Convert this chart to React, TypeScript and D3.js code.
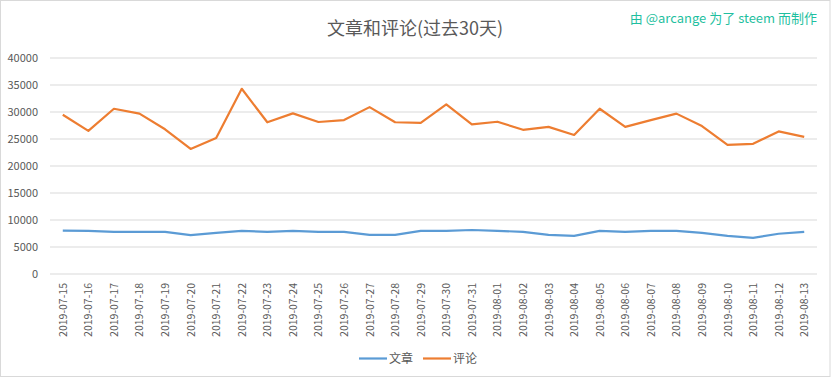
import React from "react";
import * as d3 from "d3";

const dates = [
  "2019-07-15","2019-07-16","2019-07-17","2019-07-18","2019-07-19","2019-07-20","2019-07-21","2019-07-22","2019-07-23","2019-07-24",
  "2019-07-25","2019-07-26","2019-07-27","2019-07-28","2019-07-29","2019-07-30","2019-07-31","2019-08-01","2019-08-02","2019-08-03",
  "2019-08-04","2019-08-05","2019-08-06","2019-08-07","2019-08-08","2019-08-09","2019-08-10","2019-08-11","2019-08-12","2019-08-13",
];
const posts = [
  8050, 8000, 7800, 7800, 7800, 7200, 7600, 8000, 7800, 8000,
  7800, 7800, 7250, 7250, 8000, 8000, 8150, 8000, 7800, 7250,
  7050, 8000, 7800, 8000, 8000, 7600, 7050, 6700, 7450, 7800,
];
const comments = [
  29500, 26500, 30600, 29700, 26800, 23150, 25200, 34300, 28100, 29750,
  28150, 28500, 30900, 28100, 28000, 31400, 27700, 28200, 26700, 27250,
  25750, 30600, 27250, 28500, 29700, 27400, 23900, 24100, 26400, 25400,
];
const yTicks = [0, 5000, 10000, 15000, 20000, 25000, 30000, 35000, 40000];
const seriesNames = ["文章", "评论"];
const colors = ["#5B9BD5", "#ED7D31"];

const W = 832, H = 378;
const left = 50, right = 817, top = 58, bottom = 274;
const font = "'Noto Sans CJK SC', 'Noto Sans', sans-serif";

export default function App() {
  const x = d3.scaleBand<string>().domain(dates).range([left, right]);
  const cx = (d: string) => (x(d) as number) + x.bandwidth() / 2;
  const y = d3.scaleLinear().domain([0, 40000]).range([bottom, top]);
  const line = d3.line<number>().x((_, i) => cx(dates[i])).y((v) => y(v));
  const series = [posts, comments];

  return (
    <svg width={W} height={H} style={{ position: "absolute", left: 0, top: 0, background: "#fff" }}>
      <rect x={0.5} y={0.5} width={W - 2.5} height={H - 2} fill="#fff" stroke="#D9D9D9" />
      <text x={415} y={35} textAnchor="middle" fontFamily={font} fontSize={18} fill="#595959">
        文章和评论(过去30天)
      </text>
      <text x={817} y={23} textAnchor="end" fontFamily={font} fontSize={13} fill="#1FBFA0">
        由 @arcange 为了 steem 而制作
      </text>
      {yTicks.map((t) => (
        <g key={t}>
          <line x1={left} x2={right} y1={y(t)} y2={y(t)} stroke="#D9D9D9" strokeWidth={1} />
          <text x={38} y={y(t)} dy="0.35em" textAnchor="end" fontFamily={font} fontSize={11} fill="#595959">
            {t}
          </text>
        </g>
      ))}
      {dates.map((d) => (
        <text
          key={d}
          transform={`translate(${cx(d) + 4},${283}) rotate(-90)`}
          textAnchor="end"
          fontFamily={font}
          fontSize={10.5}
          fill="#595959"
        >
          {d}
        </text>
      ))}
      {series.map((s, i) => (
        <path key={i} d={line(s) || ""} fill="none" stroke={colors[i]} strokeWidth={2.2} strokeLinejoin="round" />
      ))}
      {seriesNames.map((n, i) => {
        const lx = 359 + i * 64;
        return (
          <g key={n}>
            <line x1={lx} x2={lx + 28} y1={358.5} y2={358.5} stroke={colors[i]} strokeWidth={2.2} />
            <text x={lx + 30} y={358.5} dy="0.35em" fontFamily={font} fontSize={12} fill="#595959">
              {n}
            </text>
          </g>
        );
      })}
    </svg>
  );
}
